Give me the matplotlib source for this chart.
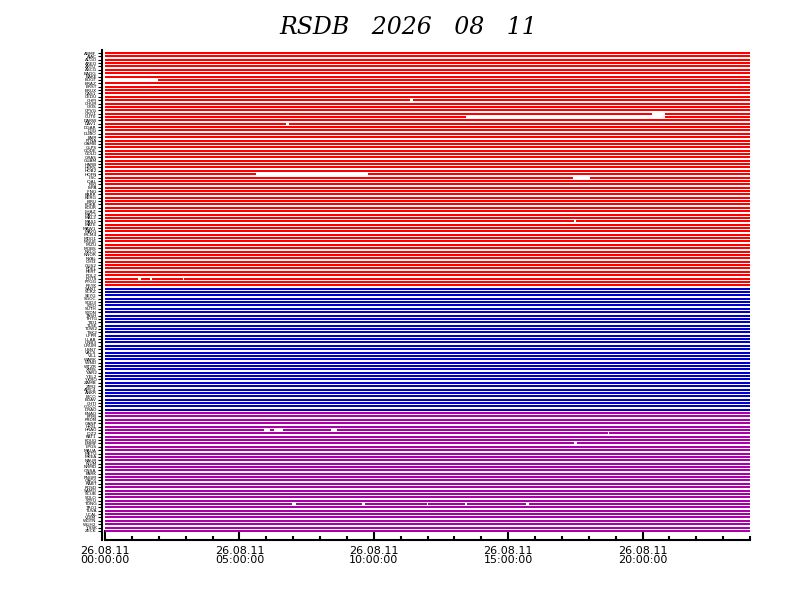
import matplotlib
matplotlib.use("Agg")
import matplotlib.pyplot as plt
from matplotlib.ticker import MultipleLocator, FuncFormatter

# station names per group (top to bottom)
red_stations = """ABMF AJAC ALGO AREQ ARTU ASCG BADG BAKE BOGT BRAZ
BRST BRUX CAS1 CEDU CHPI CHUR CKIS CPVG CRO1 CUT0
DARW DAV1 DGAR DJIG DUBO FAIR FTNA GAMB GLPS GODE
GOLD GRAS GUAM HARB HERS HOB2 HOFN IISC IQAL IRKJ
ISPA JFNG KARR KERG KIRU KOKB KOUR LHAZ MAC1 MAL2
MAS1 MATE MAW1 MAYG MCM4 MDO1 MGUE MIZU MOBS NKLG
NNOR NYAL OHI3 OUS2 PDEL PERT POL2 POTS PTGG REYK""".split()
blue_stations = """SANT SCRZ SEYG SGOC SOD3 STJO SUTH SYDN TASH THTG
TID1 TLSE TOW2 TSK2 UFPR ULAB UNB3 URUM USN7 VACS
VILL WARK WIND WTZR XMIS YAR2 YEL2 YKRO ZAMB ZIM2
AMC4 ANKR BJCO BOAV CHTI COCO DRAO""".split()
magenta_stations = """ENAO FFMJ FRDN GANP HKSL HRAO JOZ2 KAT1 KOUG LMMF
LPGS MAUA METG MKEA NAUR NIUM NRMD ONSA PARK PNGM
QAQ1 RABT RDSD SAMO SCUB SOLO STFU TONG TRO1 TUVA
UCAL VOIM WGTN WUH2 YSSK ZECK""".split()

# missing data (hours of day) per row index
gaps = {
    8: [(0.0, 1.97)],
    14: [(11.35, 11.45)],
    18: [(20.35, 20.85)],
    19: [(13.43, 20.85)],
    21: [(6.75, 6.85)],
    36: [(5.6, 9.8)],
    37: [(17.4, 18.05)],
    50: [(17.45, 17.52)],
    67: [(1.23, 1.33), (1.67, 1.75), (2.9, 2.95)],
    112: [(5.92, 6.14), (6.29, 6.62), (8.4, 8.63)],
    113: [(18.7, 18.75)],
    116: [(17.45, 17.56)],
    134: [(6.96, 7.1), (9.56, 9.67), (11.98, 12.02), (13.4, 13.47), (15.67, 15.78)],
}

day_start, day_end = 0.0, 24.0

groups = [(red_stations, '#FF0000'), (blue_stations, '#0000CC'), (magenta_stations, '#AA00AA')]

fig = plt.figure(figsize=(7.92, 6.12), dpi=100)
ax = fig.add_axes([105/792, 1-540/612, 645/792, 490/612])

names = []
row = 0
for stations, col in groups:
    for st in stations:
        names.append(st)
        start = day_start
        for g0, g1 in gaps.get(row, []):
            if g0 > start:
                ax.plot([start, g0], [row, row], color=col, lw=1.45, solid_capstyle='butt')
            start = g1
        if start < day_end:
            ax.plot([start, day_end], [row, row], color=col, lw=1.45, solid_capstyle='butt')
        row += 1

n = len(names)
ax.set_xlim(day_start, day_end)
ax.set_ylim(144.7, -0.9)

ax.set_yticks(range(n))
ax.set_yticklabels(names)
ax.tick_params(axis='y', length=3, width=0.8, pad=1, labelsize=3.2)
for lab in ax.get_yticklabels():
    lab.set_fontweight('bold')

ax.xaxis.set_major_locator(MultipleLocator(5))
ax.xaxis.set_minor_locator(MultipleLocator(1))
ax.xaxis.set_major_formatter(FuncFormatter(lambda v, p: "26.08.11\n%02d:00:00" % int(v)))
ax.tick_params(axis='x', which='major', direction='in', length=7, width=1.5, labelsize=8, pad=4)
ax.tick_params(axis='x', which='minor', direction='in', length=3, width=1.5)
for lab in ax.get_xticklabels():
    lab.set_linespacing(0.95)

ax.spines['top'].set_visible(False)
ax.spines['right'].set_visible(False)
ax.spines['bottom'].set_linewidth(1.5)
ax.spines['left'].set_linewidth(1.5)
ax.spines['left'].set_position(('outward', 2))

fig.text(408/792, 1-28/612, "RSDB   2026   08   11", ha='center', va='center',
         fontsize=17, style='italic', family='DejaVu Serif', fontweight='light')

fig.savefig("out.png", dpi=100)
